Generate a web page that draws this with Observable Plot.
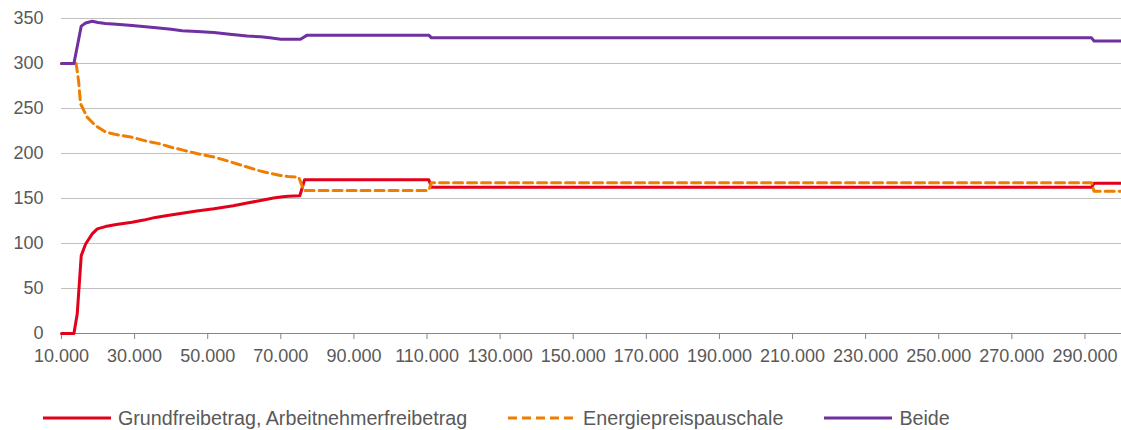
<!DOCTYPE html>
<html><head><meta charset="utf-8">
<script src="https://cdn.jsdelivr.net/npm/d3@7"></script>
<script src="https://cdn.jsdelivr.net/npm/@observablehq/plot@0.6"></script>
<style>
body{margin:0;background:#fff;font-family:"Liberation Sans",Arial,sans-serif;}
#legend{display:flex;align-items:center;margin-left:43px;margin-top:39px;font-size:19.7px;color:#595959;line-height:22px;}
.item{display:flex;align-items:center;margin-right:41px}
.item svg{margin-right:7px;display:block}
</style></head><body>
<div id="chart"></div>
<div id="legend"></div>
<script>
// Series labels and colours
const seriesNames = ["Grundfreibetrag, Arbeitnehmerfreibetrag", "Energiepreispauschale", "Beide"];
const seriesColors = ["#E2001A", "#EF7D00", "#7030A0"];

// Axis ticks
const xTicks = [10000, 30000, 50000, 70000, 90000, 110000, 130000, 150000, 170000, 190000, 210000, 230000, 250000, 270000, 290000];
const yTicks = [0, 50, 100, 150, 200, 250, 300, 350];

// Grundfreibetrag, Arbeitnehmerfreibetrag
const grundIncome = [10000, 13400, 14300, 15400, 16600, 18400, 19800, 22000, 25000, 29300, 32500, 35700, 39000, 43000, 47000, 51700, 57000, 60800, 64500, 68000, 70500, 72000, 75200, 76500, 110500, 111200, 291800, 292500, 300000];
const grundValue  = [0, 0, 21.6, 86.5, 99.5, 110.7, 116.3, 118.8, 121, 123.6, 126, 129, 131, 133.6, 136, 138.5, 142, 145, 147.8, 150.5, 152, 152.6, 153, 170.8, 170.8, 162.5, 162.5, 167, 167];

// Energiepreispauschale
const energieIncome = [10000, 14000, 14700, 15200, 17000, 19300, 22000, 25000, 29300, 33000, 36600, 40000, 43500, 47000, 51700, 56000, 60800, 64000, 67000, 69900, 72000, 74900, 76300, 110500, 111200, 291800, 292500, 300000];
const energieValue  = [300, 300, 279.6, 255.4, 240.5, 231, 224, 221, 218, 214, 211, 207, 203.5, 200, 196, 191, 185, 181, 178, 175.6, 174.5, 173.7, 159, 159, 167.5, 167.5, 158, 158];

// Beide
const beideIncome = [10000, 13400, 15400, 16600, 18400, 20000, 22000, 25000, 29300, 33000, 36600, 40000, 43000, 47000, 51700, 56000, 60800, 64500, 67000, 70000, 75400, 77200, 110500, 111200, 291800, 292500, 300000];
const beideValue  = [300, 300, 341.5, 345, 347, 345.5, 344.5, 343.5, 342.3, 340.8, 339.5, 338, 336.5, 335.5, 334.5, 332.5, 330.5, 329.6, 328.5, 327, 327, 331.5, 331.5, 328.5, 328.5, 325, 325];

const toRows = (xs, ys, s) => xs.map((x, i) => ({income: x, value: ys[i], series: s}));
const grund = toRows(grundIncome, grundValue, seriesNames[0]);
const energie = toRows(energieIncome, energieValue, seriesNames[1]);
const beide = toRows(beideIncome, beideValue, seriesNames[2]);

const fmt = d3.formatLocale({decimal: ",", thousands: ".", grouping: [3], currency: ["", "€"]}).format(",");

const chart = Plot.plot({
  width: 1121, height: 368,
  marginLeft: 61, marginRight: 0, marginTop: 18, marginBottom: 35,
  style: {fontFamily: "'Liberation Sans', Arial, sans-serif", fontSize: "18px", background: "#fff"},
  x: {domain: [10000, 300000]},
  y: {domain: [0, 350]},
  marks: [
    Plot.ruleY(yTicks.filter(d => d > 0), {stroke: "#c0c0c0", strokeWidth: 1}),
    Plot.ruleY([0], {stroke: "#868686", strokeWidth: 1}),
    Plot.axisX({ticks: xTicks, tickFormat: fmt, tickSize: 6, tickPadding: 10, stroke: "#868686", fill: "#595959", label: null}),
    Plot.axisY({ticks: yTicks, tickSize: 0, tickPadding: 18, fill: "#595959", label: null}),
    Plot.line(grund, {x: "income", y: "value", stroke: seriesColors[0], strokeWidth: 3, strokeLinejoin: "round"}),
    Plot.line(energie, {x: "income", y: "value", stroke: seriesColors[1], strokeWidth: 3, strokeDasharray: "9,5"}),
    Plot.line(beide, {x: "income", y: "value", stroke: seriesColors[2], strokeWidth: 3, strokeLinejoin: "round"})
  ]
});
document.getElementById("chart").appendChild(chart);

const legend = document.getElementById("legend");
seriesNames.forEach((name, i) => {
  const item = document.createElement("div");
  item.className = "item";
  const dash = i === 1 ? ' stroke-dasharray="9,5"' : '';
  item.innerHTML = `<svg width="68" height="10"><line x1="0" x2="68" y1="5" y2="5" stroke="${seriesColors[i]}" stroke-width="3"${dash}/></svg><span>${name}</span>`;
  legend.appendChild(item);
});
</script>
</body></html>
